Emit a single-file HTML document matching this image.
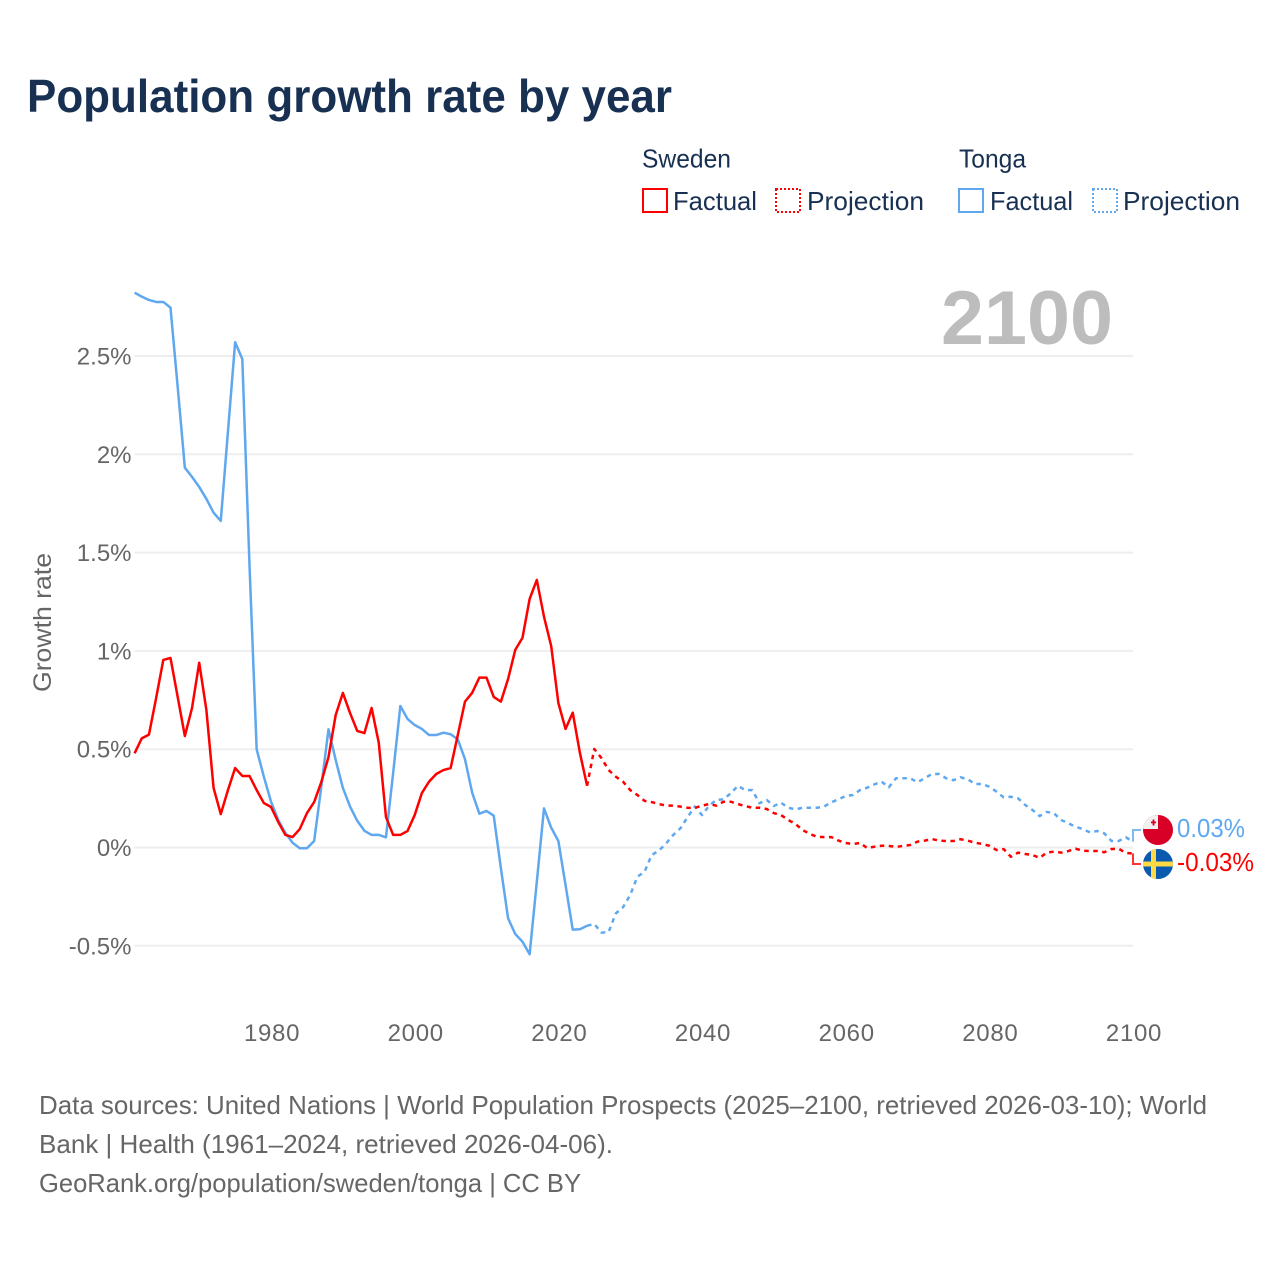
<!DOCTYPE html>
<html lang="en">
<head>
<meta charset="utf-8">
<title>Population growth rate by year</title>
<style>
html,body{margin:0;padding:0;background:#fff;width:1280px;height:1280px;overflow:hidden}
svg{display:block}
text{font-family:"Liberation Sans","DejaVu Sans",sans-serif}
.leg{font-size:26px;fill:#183153}
.foot{font-size:26px;fill:#666}
.ytick,.xtick{font-size:24px;fill:#666}
</style>
</head>
<body>
<svg id="chart" xmlns="http://www.w3.org/2000/svg" width="1280" height="1280" viewBox="0 0 1280 1280">
  <text x="27" y="112" font-size="46" font-weight="700" fill="#183153" textLength="645" lengthAdjust="spacingAndGlyphs">Population growth rate by year</text>

  <g>
    <text class="leg" x="642" y="167.5" textLength="89" lengthAdjust="spacingAndGlyphs">Sweden</text>
    <text class="leg" x="959" y="167.5" textLength="67" lengthAdjust="spacingAndGlyphs">Tonga</text>
    <g>
      <rect x="643" y="189" width="24" height="23" fill="none" stroke="#ff0000" stroke-width="2"/>
      <text class="leg" x="673" y="210" textLength="84" lengthAdjust="spacingAndGlyphs">Factual</text>
    </g>
    <g>
      <rect x="776" y="189" width="24" height="23" fill="none" stroke="#ff0000" stroke-width="2" stroke-dasharray="2 2"/>
      <text class="leg" x="807" y="210" textLength="117" lengthAdjust="spacingAndGlyphs">Projection</text>
    </g>
    <g>
      <rect x="959" y="189" width="24" height="23" fill="none" stroke="#5fa8f0" stroke-width="2"/>
      <text class="leg" x="990" y="210" textLength="83" lengthAdjust="spacingAndGlyphs">Factual</text>
    </g>
    <g>
      <rect x="1093" y="189" width="24" height="23" fill="none" stroke="#5fa8f0" stroke-width="2" stroke-dasharray="2 2"/>
      <text class="leg" x="1123" y="210" textLength="117" lengthAdjust="spacingAndGlyphs">Projection</text>
    </g>
  </g>

  <g id="grid"></g>
  <text x="941" y="344" font-size="76" font-weight="700" fill="#bdbdbd" textLength="172" lengthAdjust="spacingAndGlyphs">2100</text>
  <g id="yaxis"></g>
  <g id="xaxis"></g>
  <text transform="translate(51,692) rotate(-90)" font-size="25" fill="#666" textLength="139" lengthAdjust="spacingAndGlyphs">Growth rate</text>
  <g id="series"></g>

  <g>
    <clipPath id="clipT"><circle cx="1158" cy="830" r="15"/></clipPath>
    <g clip-path="url(#clipT)">
      <rect x="1143" y="815" width="30" height="30" fill="#d80027"/>
      <rect x="1143" y="815" width="15" height="14" fill="#f0f0f0"/>
      <rect x="1151" y="821.5" width="5" height="1.8" fill="#d80027"/>
      <rect x="1152.6" y="819.5" width="1.8" height="6" fill="#d80027"/>
    </g>
  </g>
  <g>
    <clipPath id="clipS"><circle cx="1158" cy="864" r="15"/></clipPath>
    <g clip-path="url(#clipS)">
      <rect x="1143" y="849" width="30" height="30" fill="#0a5bb0"/>
      <rect x="1143" y="861.5" width="30" height="5" fill="#ffda44"/>
      <rect x="1151" y="849" width="5" height="30" fill="#ffda44"/>
    </g>
  </g>
  <text id="labelTonga" x="1177" y="837" font-size="26" fill="#5fa8f0" textLength="68" lengthAdjust="spacingAndGlyphs"></text>
  <text id="labelSweden" x="1177" y="871" font-size="26" fill="#ff0000" textLength="77" lengthAdjust="spacingAndGlyphs"></text>

  <g>
    <text class="foot" x="39" y="1114" textLength="1168" lengthAdjust="spacingAndGlyphs">Data sources: United Nations | World Population Prospects (2025–2100, retrieved 2026-03-10); World</text>
    <text class="foot" x="39" y="1153" textLength="574" lengthAdjust="spacingAndGlyphs">Bank | Health (1961–2024, retrieved 2026-04-06).</text>
    <text class="foot" x="39" y="1192" textLength="542" lengthAdjust="spacingAndGlyphs">GeoRank.org/population/sweden/tonga | CC BY</text>
  </g>
</svg>
<script>
const factualStartYear = 1961;
const projectionStartYear = 2025;
const yTicks = [-0.5, 0, 0.5, 1, 1.5, 2, 2.5];
const yTickLabels = ["-0.5%", "0%", "0.5%", "1%", "1.5%", "2%", "2.5%"];
const xTicks = [1980, 2000, 2020, 2040, 2060, 2080, 2100];
const swedenFactual = [
  .479,.555,.574,.760,.954,.964,.767,.567,.710,.940,
  .699,.303,.170,.292,.404,.364,.364,.292,.226,.206,
  .130,.064,.053,.094,.175,.231,.333,.460,.674,.786,
  .684,.593,.582,.710,.532,.155,.064,.064,.084,.165,
  .277,.335,.374,.394,.404,.572,.742,.787,.864,.864,
  .766,.742,.857,1.005,1.066,1.264,1.361,1.174,1.025,.735,
  .603,.686,.481,.314
];
const swedenProjection = [
  .501,.455,.394,.360,.335,.292,
  .267,.237,.231,.221,.213,.213,.208,.202,.201,.213,
  .221,.213,.233,.233,.221,.211,.202,.202,.196,.175,
  .165,.140,.120,.089,.069,.055,.053,.053,.035,.023,
  .018,.023,-.003,.004,.009,.008,.003,.008,.013,.030,
  .035,.043,.035,.033,.033,.042,.035,.024,.018,.009,
  -.013,-.008,-.047,-.026,-.033,-.038,-.053,-.026,-.021,-.026,
  -.018,-.006,-.016,-.018,-.018,-.024,-.008,-.006,-.028,-.03
];
const tongaFactual = [
  2.822,2.802,2.785,2.775,2.775,2.746,2.344,1.932,1.885,1.834,
  1.773,1.703,1.661,2.115,2.570,2.485,1.437,.499,.360,.233,
  .140,.074,.024,-.004,-.004,.033,.309,.601,.445,.303,
  .208,.136,.085,.064,.064,.052,.379,.720,.654,.623,
  .603,.572,.572,.584,.576,.550,.449,.279,.172,.186,
  .162,-.106,-.360,-.440,-.479,-.543,-.174,.199,.101,.033,
  -.191,-.418,-.416,-.398
];
const tongaProjection = [
  -.389,-.433,-.430,-.335,-.304,-.242,
  -.149,-.123,-.038,-.016,.021,.064,.098,.155,.208,.165,
  .213,.242,.245,.276,.314,.292,.292,.225,.242,.211,
  .228,.202,.194,.202,.202,.202,.208,.230,.245,.262,
  .267,.292,.304,.321,.335,.306,.352,.352,.352,.332,
  .352,.374,.374,.352,.342,.357,.347,.323,.323,.309,
  .284,.255,.258,.250,.216,.191,.160,.181,.174,.140,
  .123,.106,.094,.077,.084,.072,.033,.033,.052,.03
];
const labelValueTonga = "0.03%";
const labelValueSweden = "-0.03%";

const NS = "http://www.w3.org/2000/svg";
const RED = "#ff0000";
const BLUE = "#5fa8f0";
function xScale(year) { return 1133 - (2100 - year) * 7.183; }
function yScale(v) { return 847.5 - v * 196.6; }
function make(tag, attrs) {
  const el = document.createElementNS(NS, tag);
  for (const k in attrs) el.setAttribute(k, attrs[k]);
  return el;
}
const grid = document.getElementById("grid");
const yaxis = document.getElementById("yaxis");
const xaxis = document.getElementById("xaxis");
const series = document.getElementById("series");

yTicks.forEach(function (t, i) {
  const line = make("line", { x1: xScale(1961), x2: xScale(2100), y1: yScale(t), y2: yScale(t), stroke: "#eeeeee", "stroke-width": 2 });
  
  
  grid.appendChild(line);
  const label = make("text", { class: "ytick", x: 131.5, y: yScale(t) + 8.5, "text-anchor": "end" });
  
  
  label.textContent = yTickLabels[i];
  yaxis.appendChild(label);
});
xTicks.forEach(function (t) {
  const label = make("text", { class: "xtick", x: xScale(t) + 1, y: 1041, "text-anchor": "middle", "letter-spacing": "0.7" });
  
  
  label.textContent = String(t);
  xaxis.appendChild(label);
});
function pathFrom(values, startYear, anchorValue) {
  const pts = [];
  if (anchorValue !== undefined) pts.push([xScale(startYear - 1), yScale(anchorValue)]);
  values.forEach(function (v, i) { pts.push([xScale(startYear + i), yScale(v)]); });
  return pts.map(function (p, i) { return (i ? "L" : "M") + p[0].toFixed(2) + " " + p[1].toFixed(2); }).join("");
}
function drawLine(d, color, dashed, name) {
  const p = make("path", { d: d, fill: "none", stroke: color, "stroke-width": 2.5, "stroke-linejoin": "round" });
  if (dashed) p.setAttribute("stroke-dasharray", "4.5 4.5");
  
  
  series.appendChild(p);
}
drawLine(pathFrom(tongaFactual, factualStartYear), BLUE, false, "tonga-factual-line");
drawLine(pathFrom(tongaProjection, projectionStartYear, tongaFactual[tongaFactual.length - 1]), BLUE, true, "tonga-projection-line");
drawLine(pathFrom(swedenFactual, factualStartYear), RED, false, "sweden-factual-line");
drawLine(pathFrom(swedenProjection, projectionStartYear, swedenFactual[swedenFactual.length - 1]), RED, true, "sweden-projection-line");

function connector(lastValue, flagY, color, name) {
  const x = xScale(2100);
  const d = "M" + x + " " + yScale(lastValue) + "L" + x + " " + flagY + "L" + (x + 8) + " " + flagY;
  const c = make("path", { d: d, fill: "none", stroke: color, "stroke-width": 2, "stroke-opacity": 0.8 });
  
  
  series.appendChild(c);
}
connector(tongaProjection[tongaProjection.length - 1], 830, BLUE, "tonga-label-connector");
connector(swedenProjection[swedenProjection.length - 1], 864, RED, "sweden-label-connector");
document.getElementById("labelTonga").textContent = labelValueTonga;
document.getElementById("labelSweden").textContent = labelValueSweden;
</script>
</body>
</html>
